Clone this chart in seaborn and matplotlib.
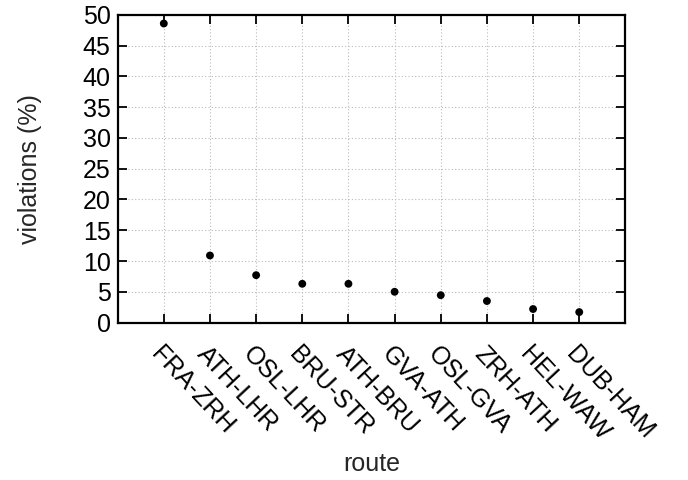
import seaborn as sns
import matplotlib.pyplot as plt
import pandas as pd

# route violation shares, sorted high to low
routes = ["FRA-ZRH", "ATH-LHR", "OSL-LHR", "BRU-STR", "ATH-BRU",
          "GVA-ATH", "OSL-GVA", "ZRH-ATH", "HEL-WAW", "DUB-HAM"]
violations = [48.6, 10.9, 7.7, 6.3, 6.3, 5.0, 4.45, 3.5, 2.2, 1.7]
y_ticks = [0, 5, 10, 15, 20, 25, 30, 35, 40, 45, 50]

df = pd.DataFrame({"route": routes, "violations": violations})

sns.set_style("ticks")
plt.rcParams['font.family'] = ['Liberation Sans', 'DejaVu Sans']

fig, ax = plt.subplots(figsize=(6.88, 4.8), dpi=100)
fig.subplots_adjust(left=0.171, right=0.909, top=0.969, bottom=0.328)

sns.scatterplot(data=df, x="route", y="violations", color="black",
                s=32, edgecolor="none", ax=ax, zorder=3)

ax.set_xlim(-1, len(routes))
ax.set_ylim(0, 50)
ax.set_yticks(y_ticks)

# gnuplot-like dotted grid
ax.grid(True, linestyle=(0, (1, 2)), color="#bbbbbb", linewidth=0.8)
ax.set_axisbelow(True)

for sp in ax.spines.values():
    sp.set_visible(True)
    sp.set_linewidth(1.6)
    sp.set_color("black")

ax.tick_params(axis="both", direction="in", length=6.5, width=1.3,
               top=True, right=True, labelsize=18, colors="black")
ax.tick_params(axis="x", pad=14)
ax.tick_params(axis="y", pad=5)

for lbl in ax.get_xticklabels():
    lbl.set_rotation(-47)
    lbl.set_ha("left")
    lbl.set_va("top")
    lbl.set_rotation_mode("anchor")

ax.set_xlabel("route", fontsize=18, labelpad=5)
ax.set_ylabel("violations (%)", fontsize=18, labelpad=29)

plt.savefig("out.png", dpi=100)
plt.close()
